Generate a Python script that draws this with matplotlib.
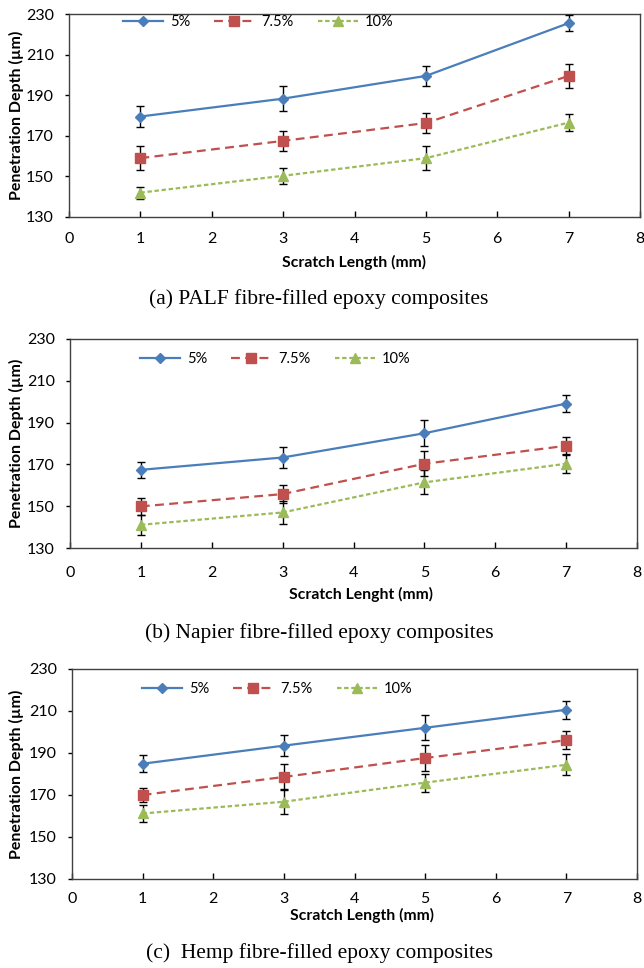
import matplotlib
matplotlib.use("Agg")
import matplotlib.pyplot as plt

# ---------------- data ----------------
x_vals = [1, 3, 5, 7]
series_labels = ["5%", "7.5%", "10%"]

palf_5 = [179.5, 188.3, 199.5, 225.5]
palf_5_err = [5, 6, 5, 4]
palf_75 = [159, 167.5, 176.3, 199.5]
palf_75_err = [6, 5, 5, 6]
palf_10 = [142, 150.3, 159, 176.5]
palf_10_err = [3, 4, 6, 4]

napier_5 = [167.4, 173.3, 184.9, 199.1]
napier_5_err = [3.7, 5, 6.2, 4]
napier_75 = [149.9, 155.8, 170.3, 178.9]
napier_75_err = [4, 4.2, 6, 4]
napier_10 = [141.1, 147, 161.4, 170.3]
napier_10_err = [4.8, 5.3, 5.8, 4.2]

hemp_5 = [184.9, 193.5, 202, 210.6]
hemp_5_err = [4, 5, 6, 4.2]
hemp_75 = [170, 178.6, 187.6, 196.1]
hemp_75_err = [3.3, 6, 6.2, 4.2]
hemp_10 = [161.2, 166.8, 175.9, 184.4]
hemp_10_err = [4, 6, 4.3, 5]

x_ticks = [0, 1, 2, 3, 4, 5, 6, 7, 8]
y_ticks = [130, 150, 170, 190, 210, 230]

y_label = "Penetration Depth (\u00b5m)"
x_labels = ["Scratch Length (mm)", "Scratch Lenght (mm)", "Scratch Length (mm)"]
captions = ["(a) PALF fibre-filled epoxy composites",
            "(b) Napier fibre-filled epoxy composites",
            "(c)  Hemp fibre-filled epoxy composites"]

panels = [
    ([palf_5, palf_75, palf_10], [palf_5_err, palf_75_err, palf_10_err]),
    ([napier_5, napier_75, napier_10], [napier_5_err, napier_75_err, napier_10_err]),
    ([hemp_5, hemp_75, hemp_10], [hemp_5_err, hemp_75_err, hemp_10_err]),
]

# ---------------- style ----------------
colors = ["#4A7EBB", "#C0504D", "#9BBB59"]
markers = ["D", "s", "^"]
msizes = [5.5, 7, 7]
dashes = [None, (4, 2.4), (2.0, 1.2)]

sans = ["Lato", "DejaVu Sans"]
serif = ["Liberation Serif", "DejaVu Serif"]

fig = plt.figure(figsize=(6.44, 9.68), dpi=100)
W, H = 644.0, 968.0

# pixel boxes: left, right, top, bottom
boxes = [(69, 640, 14, 217), (70, 637, 339, 548), (72, 637, 669, 879)]
legend_pos = [(123, 22), (140, 359), (142, 689)]
xtick_pad = [11, 13, 9.5]
xlabel_pos = [(354, 262), (361, 594), (362, 915)]
caption_y = [299, 633, 953]

for i, (vals, errs) in enumerate(panels):
    l, r, t, b = boxes[i]
    ax = fig.add_axes([l / W, 1 - b / H, (r - l) / W, (b - t) / H])
    handles = []
    for j in range(3):
        eb = ax.errorbar(x_vals, vals[j], yerr=errs[j], color=colors[j],
                         ecolor="black", elinewidth=1.0, capsize=3, capthick=1.0,
                         marker=markers[j], markersize=msizes[j],
                         markerfacecolor=colors[j], markeredgecolor=colors[j],
                         linewidth=1.6, label=series_labels[j], zorder=3)
        line = eb[0]
        if dashes[j] is not None:
            line.set_dashes(dashes[j])
        handles.append(line)
    ax.set_xlim(0, 8)
    ax.set_ylim(130, 230)
    ax.set_xticks(x_ticks)
    ax.set_yticks(y_ticks)
    ax.tick_params(axis="x", direction="in", length=4, width=1,
                   pad=xtick_pad[i], labelsize=11.5)
    ax.tick_params(axis="y", direction="out", length=3, width=1, pad=8,
                   labelsize=11.5)
    for lab in ax.get_xticklabels() + ax.get_yticklabels():
        lab.set_family(sans)
    for sp in ax.spines.values():
        sp.set_linewidth(1.0)
        sp.set_color("#404040")
    ax.set_ylabel(y_label, fontsize=11.5, fontweight="bold", family=sans)
    ax.yaxis.set_label_coords((24 - l) / (r - l), 0.5)
    lx, ly = legend_pos[i]
    ax.legend(handles=handles, labels=series_labels, loc="center left",
              bbox_to_anchor=((lx - l) / (r - l), (b - ly) / (b - t)),
              ncol=3, frameon=False, handlelength=2.75,
              handletextpad=0.48, columnspacing=1.65, borderpad=0,
              borderaxespad=0, prop={"family": sans, "size": 10.5})
    xlx, xly = xlabel_pos[i]
    fig.text(xlx / W, 1 - xly / H, x_labels[i], ha="center", va="center",
             fontsize=11.3, fontweight="bold", family=sans)
    fig.text(319 / W, 1 - caption_y[i] / H, captions[i], ha="center",
             va="center", fontsize=15.5, family=serif)

fig.savefig("out.png", dpi=100, facecolor="white")
